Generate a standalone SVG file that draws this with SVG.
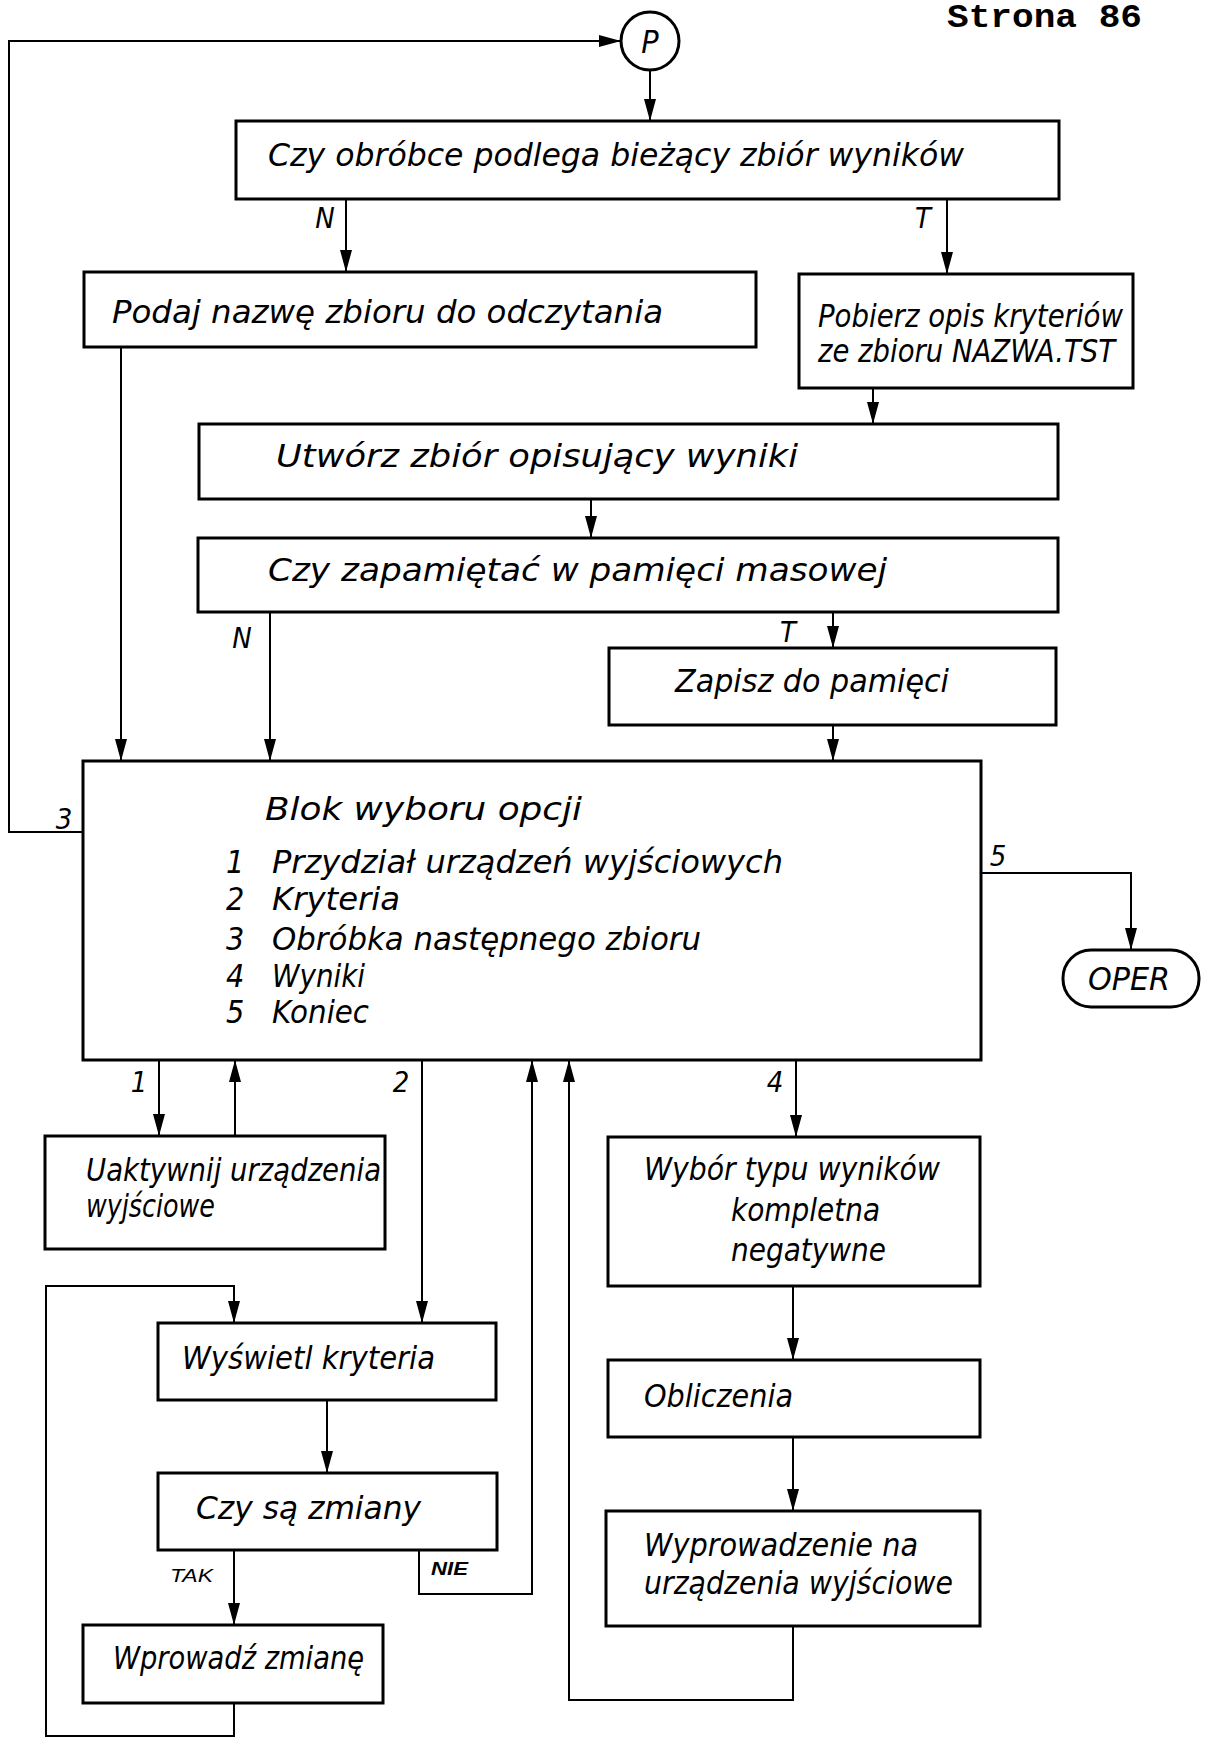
<svg xmlns="http://www.w3.org/2000/svg" width="1211" height="1739" viewBox="0 0 1211 1739">
  <style>
    .box { fill: #fff; stroke: #000; stroke-width: 3; }
    .ln { fill: none; stroke: #000; stroke-width: 2; }
    .arr { marker-end: url(#ah); }
    .t { font-family: "Liberation Sans Narrow", "DejaVu Sans Condensed", "Liberation Sans", sans-serif; font-style: italic; font-size: 32px; fill: #000; }
    .lbl { font-family: "Liberation Sans Narrow", "DejaVu Sans Condensed", "Liberation Sans", sans-serif; font-style: italic; font-size: 29px; fill: #000; }
    .sm { font-family: "Liberation Sans", "DejaVu Sans", sans-serif; font-style: italic; font-size: 18px; fill: #000; }
    .page { font-family: "Liberation Mono", "DejaVu Sans Mono", monospace; font-weight: bold; font-size: 34px; fill: #000; }
  </style>
  <defs>
    <marker id="ah" markerUnits="userSpaceOnUse" markerWidth="22" markerHeight="12" refX="22" refY="6" orient="auto">
      <path d="M0,0 L22,6 L0,12 z" fill="#000"/>
    </marker>
  </defs>
  <rect width="1211" height="1739" fill="#fff"/>

  <text class="page" x="947" y="27" textLength="195" lengthAdjust="spacingAndGlyphs">Strona 86</text>

  <!-- connectors -->
  <g id="connectors">
    <polyline class="ln arr" points="83,832 9,832 9,41 621,41"/>
    <line class="ln arr" x1="650" y1="70" x2="650" y2="121"/>
    <line class="ln arr" x1="346" y1="199" x2="346" y2="272"/>
    <line class="ln arr" x1="947" y1="199" x2="947" y2="274"/>
    <line class="ln arr" x1="873" y1="388" x2="873" y2="424"/>
    <line class="ln arr" x1="121" y1="347" x2="121" y2="761"/>
    <line class="ln arr" x1="591" y1="499" x2="591" y2="538"/>
    <line class="ln arr" x1="270" y1="612" x2="270" y2="761"/>
    <line class="ln arr" x1="833" y1="612" x2="833" y2="648"/>
    <line class="ln arr" x1="833" y1="725" x2="833" y2="761"/>
    <polyline class="ln arr" points="981,873 1131,873 1131,950"/>
    <line class="ln arr" x1="159" y1="1060" x2="159" y2="1136"/>
    <line class="ln arr" x1="235" y1="1136" x2="235" y2="1060"/>
    <line class="ln arr" x1="422" y1="1060" x2="422" y2="1323"/>
    <line class="ln arr" x1="327" y1="1400" x2="327" y2="1473"/>
    <line class="ln arr" x1="234" y1="1550" x2="234" y2="1625"/>
    <polyline class="ln arr" points="419,1550 419,1594 532,1594 532,1060"/>
    <polyline class="ln arr" points="234,1703 234,1736 46,1736 46,1286 234,1286 234,1323"/>
    <line class="ln arr" x1="796" y1="1060" x2="796" y2="1137"/>
    <line class="ln arr" x1="793" y1="1286" x2="793" y2="1360"/>
    <line class="ln arr" x1="793" y1="1437" x2="793" y2="1511"/>
    <polyline class="ln arr" points="793,1626 793,1700 569,1700 569,1060"/>

    <text class="lbl" x="64" y="829" text-anchor="middle">3</text>
    <text class="lbl" x="998" y="866" text-anchor="middle">5</text>
    <text class="lbl" x="325" y="228" text-anchor="middle">N</text>
    <text class="lbl" x="923" y="228" text-anchor="middle">T</text>
    <text class="lbl" x="242" y="648" text-anchor="middle">N</text>
    <text class="lbl" x="788" y="642" text-anchor="middle">T</text>
    <text class="lbl" x="139" y="1092" text-anchor="middle">1</text>
    <text class="lbl" x="401" y="1092" text-anchor="middle">2</text>
    <text class="lbl" x="775" y="1092" text-anchor="middle">4</text>
    <text class="sm" x="170" y="1582" textLength="43" lengthAdjust="spacingAndGlyphs">TAK</text>
    <text class="sm" x="431" y="1575" textLength="37" lengthAdjust="spacingAndGlyphs" font-weight="bold">NIE</text>
  </g>

  <g id="start">
    <circle class="box" cx="650" cy="41" r="29" stroke-width="2"/>
    <text class="t" x="650" y="53" text-anchor="middle">P</text>
  </g>

  <g id="q-process">
    <rect class="box" x="236" y="121" width="823" height="78"/>
    <text class="t" x="268" y="166" textLength="696" lengthAdjust="spacingAndGlyphs">Czy obróbce podlega bieżący zbiór wyników</text>
  </g>

  <g id="ask-name">
    <rect class="box" x="84" y="272" width="672" height="75"/>
    <text class="t" x="112" y="323" textLength="551" lengthAdjust="spacingAndGlyphs">Podaj nazwę zbioru do odczytania</text>
  </g>

  <g id="load-criteria">
    <rect class="box" x="799" y="274" width="334" height="114"/>
    <text class="t" x="818" y="327" textLength="305" lengthAdjust="spacingAndGlyphs">Pobierz opis kryteriów</text>
    <text class="t" x="818" y="362" textLength="297" lengthAdjust="spacingAndGlyphs">ze zbioru NAZWA.TST</text>
  </g>

  <g id="create-file">
    <rect class="box" x="199" y="424" width="859" height="75"/>
    <text class="t" x="276" y="467" textLength="522" lengthAdjust="spacingAndGlyphs">Utwórz zbiór opisujący wyniki</text>
  </g>

  <g id="q-store">
    <rect class="box" x="198" y="538" width="860" height="74"/>
    <text class="t" x="268" y="581" textLength="619" lengthAdjust="spacingAndGlyphs">Czy zapamiętać w pamięci masowej</text>
  </g>

  <g id="save">
    <rect class="box" x="609" y="648" width="447" height="77"/>
    <text class="t" x="675" y="692" textLength="274" lengthAdjust="spacingAndGlyphs">Zapisz do pamięci</text>
  </g>

  <g id="menu">
    <rect class="box" x="83" y="761" width="898" height="299"/>
    <text class="t" x="265" y="820" textLength="317" lengthAdjust="spacingAndGlyphs">Blok wyboru opcji</text>
    <text class="t" x="226" y="873">1</text>
    <text class="t" x="272" y="873" textLength="511" lengthAdjust="spacingAndGlyphs">Przydział urządzeń wyjściowych</text>
    <text class="t" x="226" y="910">2</text>
    <text class="t" x="272" y="910" textLength="128" lengthAdjust="spacingAndGlyphs">Kryteria</text>
    <text class="t" x="226" y="950">3</text>
    <text class="t" x="272" y="950" textLength="429" lengthAdjust="spacingAndGlyphs">Obróbka następnego zbioru</text>
    <text class="t" x="226" y="987">4</text>
    <text class="t" x="272" y="987" textLength="93" lengthAdjust="spacingAndGlyphs">Wyniki</text>
    <text class="t" x="226" y="1023">5</text>
    <text class="t" x="272" y="1023" textLength="97" lengthAdjust="spacingAndGlyphs">Koniec</text>
  </g>

  <g id="oper">
    <rect class="box" x="1063" y="950" width="136" height="57" rx="28" ry="28"/>
    <text class="t" x="1088" y="990" textLength="82" lengthAdjust="spacingAndGlyphs">OPER</text>
  </g>

  <g id="activate">
    <rect class="box" x="45" y="1136" width="340" height="113"/>
    <text class="t" x="86" y="1181" textLength="295" lengthAdjust="spacingAndGlyphs">Uaktywnij urządzenia</text>
    <text class="t" x="86" y="1217" textLength="129" lengthAdjust="spacingAndGlyphs">wyjściowe</text>
  </g>

  <g id="show-criteria">
    <rect class="box" x="158" y="1323" width="338" height="77"/>
    <text class="t" x="182" y="1369" textLength="253" lengthAdjust="spacingAndGlyphs">Wyświetl kryteria</text>
  </g>

  <g id="q-changes">
    <rect class="box" x="158" y="1473" width="339" height="77"/>
    <text class="t" x="196" y="1519" textLength="225" lengthAdjust="spacingAndGlyphs">Czy są zmiany</text>
  </g>

  <g id="enter-change">
    <rect class="box" x="83" y="1625" width="300" height="78"/>
    <text class="t" x="113" y="1669" textLength="251" lengthAdjust="spacingAndGlyphs">Wprowadź zmianę</text>
  </g>

  <g id="result-type">
    <rect class="box" x="608" y="1137" width="372" height="149"/>
    <text class="t" x="644" y="1180" textLength="296" lengthAdjust="spacingAndGlyphs">Wybór typu wyników</text>
    <text class="t" x="731" y="1221" font-size="29" textLength="149" lengthAdjust="spacingAndGlyphs">kompletna</text>
    <text class="t" x="731" y="1261" font-size="29" textLength="155" lengthAdjust="spacingAndGlyphs">negatywne</text>
  </g>

  <g id="compute">
    <rect class="box" x="608" y="1360" width="372" height="77"/>
    <text class="t" x="644" y="1407" textLength="149" lengthAdjust="spacingAndGlyphs">Obliczenia</text>
  </g>

  <g id="output">
    <rect class="box" x="606" y="1511" width="374" height="115"/>
    <text class="t" x="644" y="1556" textLength="274" lengthAdjust="spacingAndGlyphs">Wyprowadzenie na</text>
    <text class="t" x="644" y="1594" textLength="309" lengthAdjust="spacingAndGlyphs">urządzenia wyjściowe</text>
  </g>
</svg>
